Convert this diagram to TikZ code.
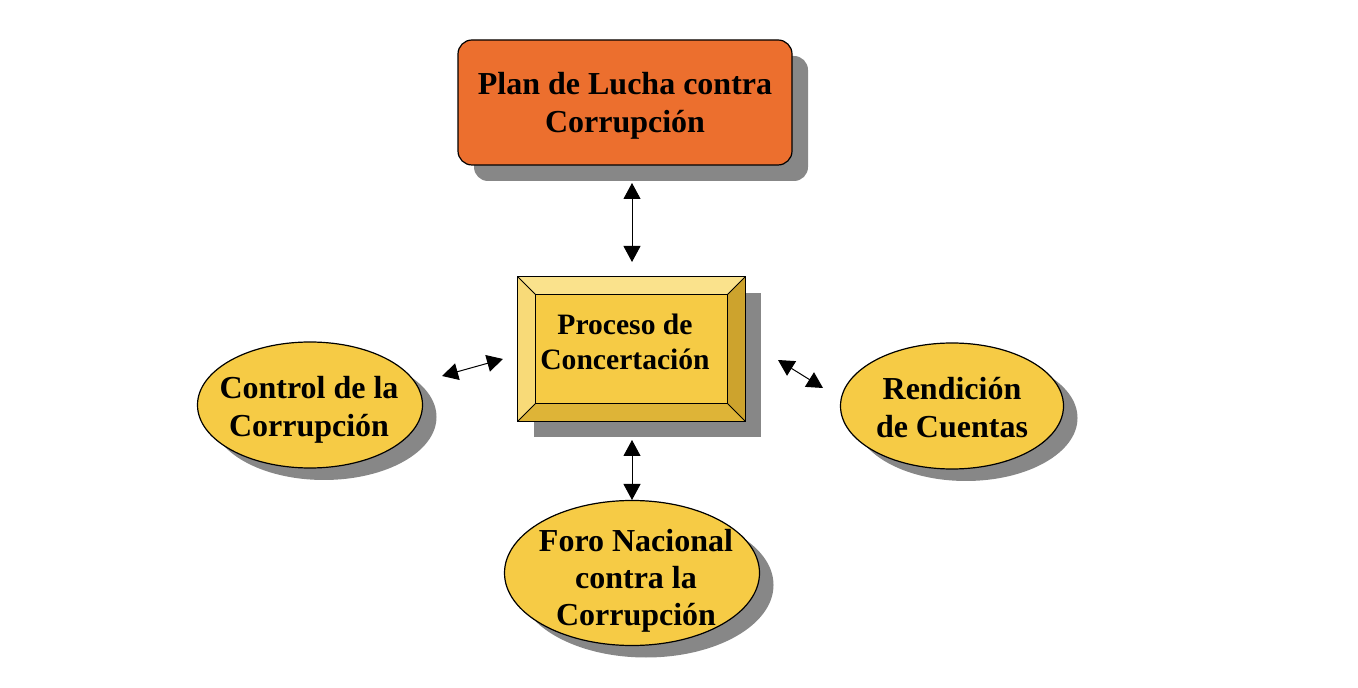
\documentclass[tikz,border=0pt]{standalone}
\usepackage{fontspec}
\setmainfont{Liberation Serif}
\usetikzlibrary{arrows.meta,shapes.geometric,shadows,calc}
\definecolor{orng}{RGB}{236,111,46}
\definecolor{yel}{RGB}{246,203,69}
\definecolor{yellt}{RGB}{250,226,140}
\definecolor{yellf}{RGB}{248,218,120}
\definecolor{yeldk}{RGB}{205,163,45}
\definecolor{yelmd}{RGB}{222,180,55}
\definecolor{shd}{RGB}{135,135,135}
\begin{document}
\begin{tikzpicture}[x=0.5pt,y=-0.5pt,
  shadowed/.style={drop shadow={shadow xshift=8pt,shadow yshift=-8pt,fill=shd,opacity=1}},
  eshadow/.style={drop shadow={shadow xshift=7pt,shadow yshift=-6pt,fill=shd,opacity=1}},
  dbl/.style={{Triangle[length=8pt,width=8.5pt]}-{Triangle[length=8pt,width=8.5pt]},line width=0.5pt},
  txt/.style={font=\bfseries\fontsize{16}{19}\selectfont,align=center,inner sep=0pt},
  ell/.style={ellipse,draw,line width=0.6pt,fill=yel,inner sep=0pt,eshadow},
  bevel/.style={draw,line width=0.5pt}]
\useasboundingbox (0,0) rectangle (1358,688);

% top box
\node[draw,line width=0.6pt,fill=orng,rounded corners=7pt,minimum width=167pt,minimum height=62.5pt,shadowed] (plan) at (625,102.5) {};
\node[txt] (plantxt) at (625,106) {Plan de Lucha contra\\Corrupción};

% centre bevelled box
\node[draw,line width=0.6pt,fill=yel,minimum width=113.5pt,minimum height=72pt,inner sep=0pt,shadowed] (proc) at (631.5,349) {};
\coordinate (inw) at ($(proc.north west)+(18,18)$);
\coordinate (ine) at ($(proc.north east)+(-18,18)$);
\coordinate (ise) at ($(proc.south east)+(-18,-18)$);
\coordinate (isw) at ($(proc.south west)+(18,-18)$);
\fill[yellt] (proc.north west) -- (proc.north east) -- (ine) -- (inw) -- cycle;
\fill[yellf] (proc.north west) -- (inw) -- (isw) -- (proc.south west) -- cycle;
\fill[yeldk] (proc.north east) -- (proc.south east) -- (ise) -- (ine) -- cycle;
\fill[yelmd] (proc.south west) -- (isw) -- (ise) -- (proc.south east) -- cycle;
\draw[bevel] (inw) rectangle (ise);
\draw[bevel] (proc.north west) -- (inw) (proc.north east) -- (ine) (proc.south east) -- (ise) (proc.south west) -- (isw);
\draw[line width=0.6pt] (proc.north west) rectangle (proc.south east);
\node[txt,font=\bfseries\fontsize{14.8}{17.5}\selectfont] (proctxt) at (625,342) {Proceso de\\Concertación};

% ellipses
\node[ell,minimum width=112.5pt,minimum height=63pt] (ctrl) at (310,405) {};
\node[txt] (ctrltxt) at (309,410) {Control de la\\Corrupción};
\node[ell,minimum width=111.5pt,minimum height=63pt] (rend) at (952,406) {};
\node[txt] (rendtxt) at (952,408) {Rendición\\de Cuentas};
\node[ell,minimum width=127.5pt,minimum height=72.5pt] (foro) at (632,573) {};
\node[txt,font=\bfseries\fontsize{16}{18.4}\selectfont] (forotxt) at (636,581) {Foro Nacional\\contra la\\Corrupción};

% connectors
\coordinate (t1) at (632,183); \coordinate (t2) at (632,262);
\coordinate (l1) at (442,376); \coordinate (l2) at (503,359);
\coordinate (r1) at (778,360); \coordinate (r2) at (823,388);
\coordinate (b1) at (632,440); \coordinate (b2) at (632,500);
\draw[dbl] (t1) -- (t2);
\draw[dbl] (l1) -- (l2);
\draw[dbl] (r1) -- (r2);
\draw[dbl] (b1) -- (b2);
\end{tikzpicture}
\end{document}
